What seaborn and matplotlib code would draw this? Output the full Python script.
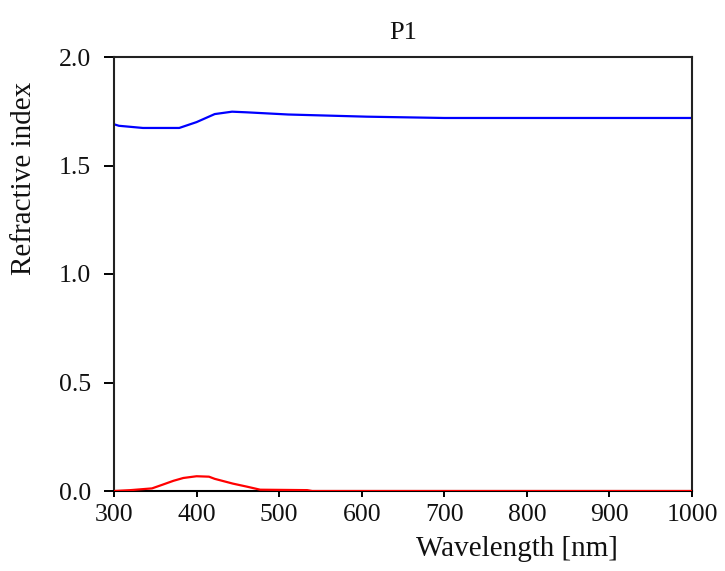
import numpy as np
import pandas as pd
import matplotlib
matplotlib.use("Agg")
import matplotlib.pyplot as plt
import seaborn as sns

# refractive index n (blue) and extinction k (red)
wl_n = [300, 306, 335, 379, 400, 422, 443, 461, 511, 606, 700, 800, 900, 1000]
n_vals = [1.690, 1.683, 1.673, 1.673, 1.700, 1.737, 1.748, 1.745, 1.735, 1.725, 1.719, 1.719, 1.719, 1.719]

wl_k = [300, 320, 346, 358, 372, 384, 400, 415, 422, 444, 461, 477, 534, 540, 1000]
k_vals = [0.0, 0.004, 0.012, 0.028, 0.047, 0.060, 0.068, 0.066, 0.056, 0.034, 0.020, 0.006, 0.004, 0.0, 0.0]

x_ticks = [300, 400, 500, 600, 700, 800, 900, 1000]
y_ticks = [0.0, 0.5, 1.0, 1.5, 2.0]

sns.set_style("ticks")
plt.rcParams['font.family'] = ['Liberation Serif', 'DejaVu Serif']
plt.rcParams.update({
    "xtick.major.size": 4.5, "xtick.major.width": 1.4, "xtick.major.pad": 5,
    "ytick.major.size": 7.5, "ytick.major.width": 1.4, "ytick.major.pad": 9,
    "xtick.color": "black", "ytick.color": "black",
    "xtick.labelcolor": "#111111", "ytick.labelcolor": "#111111",
    "xtick.labelsize": 18.5, "ytick.labelsize": 18.5,
    "xtick.direction": "out", "ytick.direction": "out",
    "xtick.bottom": True, "ytick.left": True,
})

df_n = pd.DataFrame({"wl": wl_n, "val": n_vals})
df_k = pd.DataFrame({"wl": wl_k, "val": k_vals})

fig = plt.figure(figsize=(7.25, 5.71), dpi=100)
ax = fig.add_axes([114 / 725, 1 - 491 / 571, (692 - 114) / 725, (491 - 57) / 571])

sns.lineplot(data=df_n, x="wl", y="val", color="#0000ff", linewidth=1.6, ax=ax)
sns.lineplot(data=df_k, x="wl", y="val", color="#ff0000", linewidth=1.6, ax=ax, zorder=3)

ax.set_xlim(300, 1000)
ax.set_ylim(0, 2.0)
ax.set_xticks(x_ticks)
ax.set_yticks(y_ticks)
ax.set_xticklabels([str(t) for t in x_ticks])
ax.set_yticklabels([f"{t:.1f}" for t in y_ticks])
for s in ax.spines.values():
    s.set_visible(True)
    s.set_color("#222222")
    s.set_linewidth(1.5)
ax.spines["bottom"].set_color("black")

ax.set_title("P1", fontsize=19, pad=13, color="#111111")
ax.set_xlabel("Wavelength [nm]", fontsize=21, color="#111111")
ax.set_ylabel("Refractive index", fontsize=21, color="#111111")
# labels sit off-centre in the original
ax.xaxis.label.set_va("center")
ax.yaxis.label.set_va("center")
ax.xaxis.set_label_coords(0.697, -0.134)
ax.yaxis.set_label_coords(-0.156, 0.72)

fig.savefig("out.png", dpi=100)
